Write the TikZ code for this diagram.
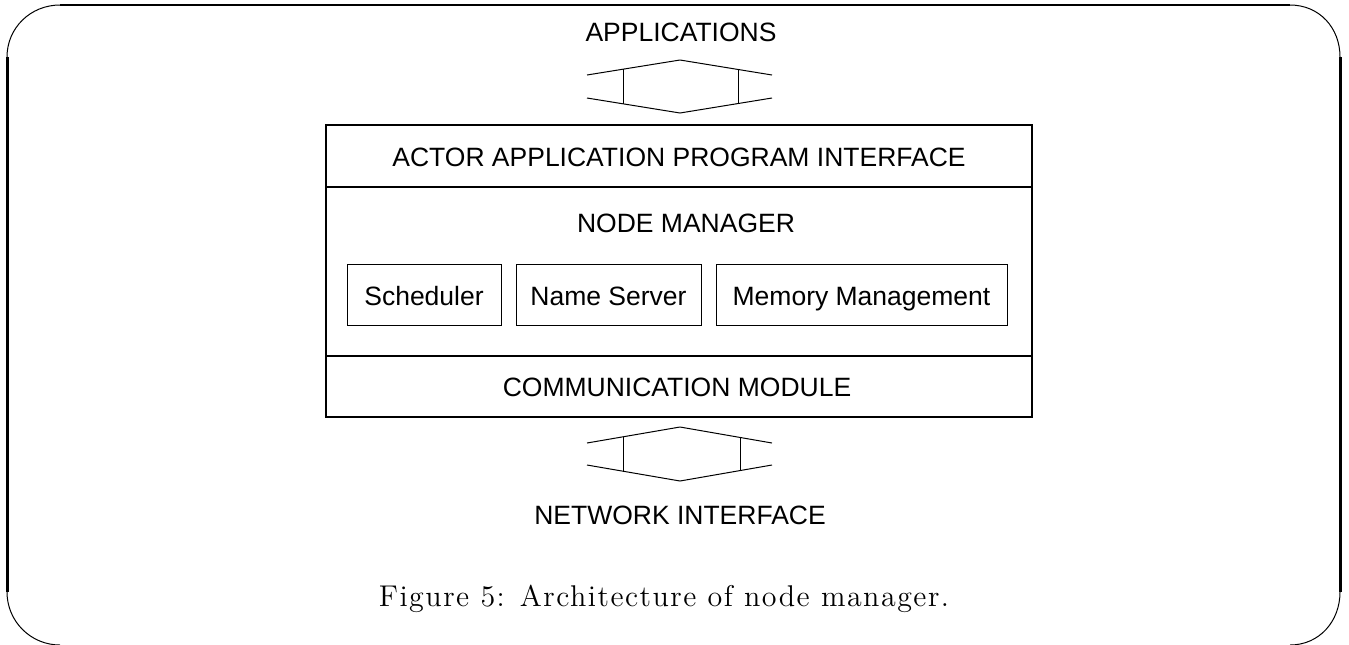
\documentclass[tikz,border=0pt]{standalone}
\usepackage{fontspec}
\newfontfamily\labelfont{Liberation Sans}
\newfontfamily\capfont{lmroman12-regular.otf}[LetterSpace=5]
\begin{document}
\begin{tikzpicture}[x=0.5pt,y=-0.5pt,
  lbl/.style={font=\labelfont\fontsize{13.25}{15}\selectfont, inner sep=0pt, anchor=base},
  outer/.style={draw, line width=0.75pt, minimum width=353pt, minimum height=146pt, inner sep=0pt},
  unit/.style={draw, line width=0.5pt, minimum height=30.5pt, inner sep=0pt},
  divider/.style={line width=1pt},
  side/.style={line width=1.5pt},
  corner/.style={line width=0.5pt},
  flow/.style={line width=0.5pt, line join=miter}]
\clip (0,0) rectangle (1349,644);

% rounded frame: heavy straight sides, thin corner arcs
\draw[line width=1.1pt] (60,5) -- (1290,5);
\draw[side] (7,57) -- (7,592);
\draw[side] (1340,57) -- (1340,592);
\draw[corner] (7,57) .. controls (7,27.7) and (30.7,5) .. (60,5);
\draw[corner] (1290,5) .. controls (1319.3,5) and (1340,27.7) .. (1340,57);
\draw[corner] (7,592) .. controls (7,621.3) and (30.7,645) .. (60,645);
\draw[corner] (1340,592) .. controls (1340,621.3) and (1319.3,645) .. (1290,645);

% layered node architecture
\node[outer] (core) at (679,271) {};
\draw[divider] (core.west |- 0,187) -- (core.east |- 0,187);
\draw[divider] (core.west |- 0,356) -- (core.east |- 0,356);

\node[lbl] (apps) at (681,41) {APPLICATIONS};
\node[lbl] (api) at (679,166) {ACTOR APPLICATION PROGRAM INTERFACE};
\node[lbl] (mgr) at (686,232) {NODE MANAGER};
\node[lbl] (comm) at (677,396) {COMMUNICATION MODULE};
\node[lbl] (net) at (680,524) {NETWORK INTERFACE};

\node[unit, minimum width=77pt] (sched) at (424,294.5) {};
\node[unit, minimum width=92.5pt] (names) at (608.5,294.5) {};
\node[unit, minimum width=145.5pt] (memory) at (861.5,294.5) {};
\node[lbl] at (sched.center |- 0,305) {Scheduler};
\node[lbl] at (names.center |- 0,305) {Name Server};
\node[lbl] at (memory.center |- 0,305) {Memory Management};

% two-way channel between applications and the interface
\coordinate (tl) at (587,75);  \coordinate (tt) at (680,60);  \coordinate (tr) at (772,75);
\coordinate (bl) at (587,98);  \coordinate (bb) at (680,113); \coordinate (br) at (772,98);
\draw[flow] (tl) -- (tt) -- (tr);
\draw[flow] (bl) -- (bb) -- (br);
\draw[flow] (623,69.2) -- (623,103.8);
\draw[flow] (738,69.5) -- (738,103.5);

% two-way channel between the communication module and the network
\coordinate (ntl) at (587,443); \coordinate (ntt) at (680,427); \coordinate (ntr) at (772,443);
\coordinate (nbl) at (587,465); \coordinate (nbb) at (680,481); \coordinate (nbr) at (772,465);
\draw[flow] (ntl) -- (ntt) -- (ntr);
\draw[flow] (nbl) -- (nbb) -- (nbr);
\draw[flow] (623,436.8) -- (623,471.2);
\draw[flow] (740,437.4) -- (740,470.6);

\node[font=\capfont\fontsize{15}{18}\selectfont, inner sep=0pt, anchor=base] (caption) at (664,606)
  {Figure 5: Architecture of node manager.};
\end{tikzpicture}
\end{document}
